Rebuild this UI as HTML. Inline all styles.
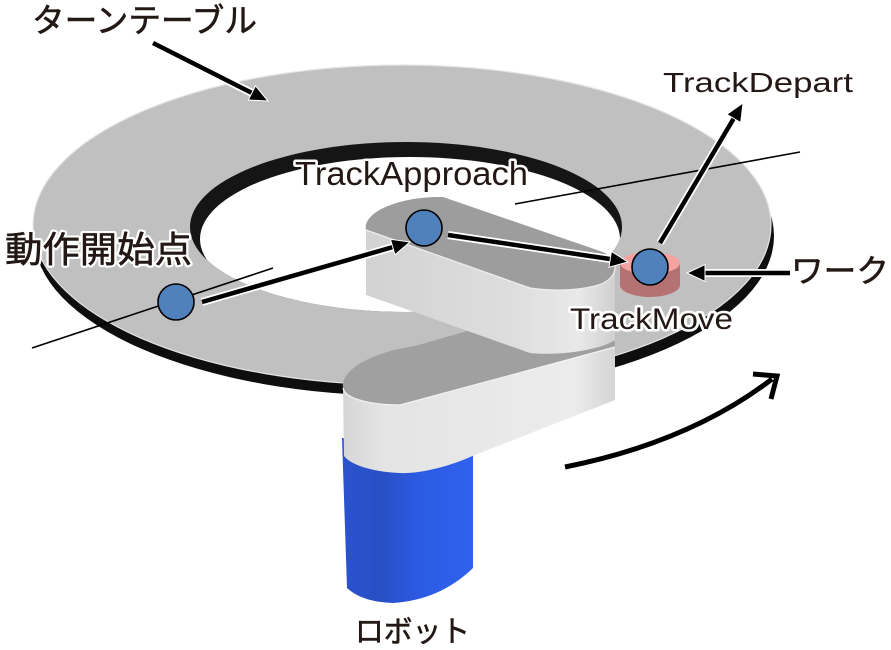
<!DOCTYPE html>
<html>
<head>
<meta charset="utf-8">
<style>
html,body{margin:0;padding:0;background:#fff;}
svg{display:block;}
.jp{font-family:"Liberation Sans","Noto Sans CJK JP",sans-serif;fill:#231815;stroke:#231815;stroke-width:0.6;}
.en{font-family:"Liberation Sans","Noto Sans CJK JP",sans-serif;fill:#231815;}
.halo{stroke:#fff;stroke-width:5;stroke-linejoin:round;paint-order:stroke;}
</style>
</head>
<body>
<svg width="891" height="650" viewBox="0 0 891 650" xmlns="http://www.w3.org/2000/svg">
<defs>
  <linearGradient id="upperFront" x1="366" y1="0" x2="615" y2="0" gradientUnits="userSpaceOnUse">
    <stop offset="0" stop-color="#d2d2d2"/>
    <stop offset="0.6" stop-color="#dedede"/>
    <stop offset="0.85" stop-color="#e9e9e9"/>
    <stop offset="1" stop-color="#d0d0d0"/>
  </linearGradient>
  <linearGradient id="lowerFront" x1="343" y1="0" x2="615" y2="0" gradientUnits="userSpaceOnUse">
    <stop offset="0" stop-color="#d6d6d6"/>
    <stop offset="0.15" stop-color="#e4e4e4"/>
    <stop offset="0.85" stop-color="#ececec"/>
    <stop offset="1" stop-color="#d4d4d4"/>
  </linearGradient>
  <linearGradient id="blueGrad" x1="342" y1="0" x2="473" y2="0" gradientUnits="userSpaceOnUse">
    <stop offset="0" stop-color="#2a52cf"/>
    <stop offset="0.3" stop-color="#2850c4"/>
    <stop offset="0.6" stop-color="#2c5be4"/>
    <stop offset="1" stop-color="#3062ee"/>
  </linearGradient>
  <clipPath id="holeClip">
    <ellipse cx="406" cy="227" rx="216" ry="85"/>
  </clipPath>
</defs>

<!-- Turntable rim -->
<ellipse cx="404" cy="236" rx="370" ry="160" fill="#0e0e0e"/>
<!-- Turntable top -->
<ellipse cx="402" cy="225" rx="369" ry="160" fill="#c0c0c0" stroke="#e4e4e4" stroke-width="1.2"/>
<!-- Hole: inner wall -->
<ellipse cx="406" cy="227" rx="216" ry="85" fill="#151515"/>
<ellipse cx="410" cy="239" rx="210" ry="82" fill="#fff" clip-path="url(#holeClip)"/>

<!-- Robot base column -->
<path d="M342,438 L473,438 L473,568 Q440,600 393,603 Q362,602 347,588 Z" fill="url(#blueGrad)"/>

<!-- Lower arm top face -->
<path d="M343,388 C340,370 372,352 415,346 L610,290 L615,347 L400,405 C375,405 345,400 343,388 Z" fill="#a0a0a0"/>
<!-- Lower arm front face -->
<path d="M343,388 C345,400 375,405 400,405 L615,347 L615,400 L470,457 C450,466 420,474 400,473 C375,472 352,466 344,456 Z" fill="url(#lowerFront)"/>
<path d="M343,388 C345,400 375,405 400,405 L615,347" fill="none" stroke="#f2f2f2" stroke-width="1.2"/>

<!-- Upper arm front face -->
<path d="M366,230 L530,288 C550,291 575,291 595,286 C610,282 615,275 615,262 L615,340 C600,350 560,356 530,353 L366,295 Z" fill="url(#upperFront)"/>
<!-- Upper arm top face -->
<path d="M366,230 C362,212 400,196 443,197 L600,251 C622,258 620,280 595,286 C575,291 550,291 530,288 Z" fill="#9d9d9d"/>
<path d="M366,230 L530,288 C550,291 575,291 595,286 C610,282 616,274 615,264" fill="none" stroke="#eeeeee" stroke-width="1.2"/>

<!-- Workpiece -->
<path d="M620,263 L620,285 C620,292 635,297 650,297 C665,297 680,292 680,285 L680,263 Z" fill="#b47272"/>
<ellipse cx="650" cy="263" rx="30" ry="11" fill="#f4a2a2"/>

<!-- Thin tangent lines -->
<line x1="32" y1="348" x2="273" y2="268" stroke="#000" stroke-width="1.6"/>
<line x1="515" y1="204" x2="800" y2="152" stroke="#000" stroke-width="1.6"/>

<!-- Arrows (white outline + black) -->
<g stroke-linecap="butt">
  <line x1="153" y1="43" x2="252" y2="93" stroke="#fff" stroke-width="8"/>
  <line x1="153" y1="43" x2="252" y2="93" stroke="#000" stroke-width="4.5"/>
  <polygon points="268,101 248.3,100 255.5,85.8" fill="#000" stroke="#fff" stroke-width="1"/>
  <line x1="202" y1="302" x2="393" y2="247" stroke="#fff" stroke-width="8"/>
  <line x1="202" y1="302" x2="393" y2="247" stroke="#000" stroke-width="4.5"/>
  <polygon points="410,242 394.9,254.7 390.5,239.3" fill="#000" stroke="#fff" stroke-width="1"/>
  <line x1="448" y1="235" x2="610" y2="259" stroke="#fff" stroke-width="8"/>
  <line x1="448" y1="235" x2="610" y2="259" stroke="#000" stroke-width="4.5"/>
  <polygon points="628,262 609,267.2 611.4,251.4" fill="#000" stroke="#fff" stroke-width="1"/>
  <line x1="660" y1="243" x2="734" y2="118" stroke="#fff" stroke-width="8"/>
  <line x1="660" y1="243" x2="734" y2="118" stroke="#000" stroke-width="4.5"/>
  <polygon points="743,103 740.7,122.6 726.9,114.4" fill="#000" stroke="#fff" stroke-width="1"/>
  <line x1="790" y1="273" x2="705" y2="273" stroke="#fff" stroke-width="8"/>
  <line x1="790" y1="273" x2="705" y2="273" stroke="#000" stroke-width="4.5"/>
  <polygon points="687,273 705,264.5 705,281.5" fill="#000" stroke="#fff" stroke-width="1"/>
</g>

<!-- Points -->
<circle cx="176" cy="302" r="18" fill="#4f81bd" stroke="#000" stroke-width="1.6"/>
<circle cx="424" cy="228" r="18" fill="#4f81bd" stroke="#000" stroke-width="1.6"/>
<circle cx="650" cy="267" r="18" fill="#4f81bd" stroke="#000" stroke-width="1.6"/>

<!-- Rotation arrow -->
<path d="M565,467 Q690,442 772,379" fill="none" stroke="#000" stroke-width="5"/>
<polyline points="753,374 777,376 771,399" fill="none" stroke="#000" stroke-width="5"/>

<!-- Labels -->
<text class="jp" x="32" y="32" font-size="33" textLength="225" lengthAdjust="spacingAndGlyphs">ターンテーブル</text>
<text class="en" x="663" y="92" font-size="28" textLength="190" lengthAdjust="spacingAndGlyphs">TrackDepart</text>
<text class="en halo" x="295" y="185" font-size="33" textLength="233" lengthAdjust="spacingAndGlyphs">TrackApproach</text>
<text class="jp halo" x="5" y="262" font-size="36" textLength="187" lengthAdjust="spacingAndGlyphs">動作開始点</text>
<text class="jp" x="5" y="262" font-size="36" textLength="187" lengthAdjust="spacingAndGlyphs">動作開始点</text>
<text class="jp" x="791" y="282" font-size="32" textLength="98" lengthAdjust="spacingAndGlyphs">ワーク</text>
<text class="en halo" x="570" y="329" font-size="30" textLength="163" lengthAdjust="spacingAndGlyphs">TrackMove</text>
<text class="jp" x="355" y="642" font-size="30" textLength="115" lengthAdjust="spacingAndGlyphs">ロボット</text>
</svg>
</body>
</html>
